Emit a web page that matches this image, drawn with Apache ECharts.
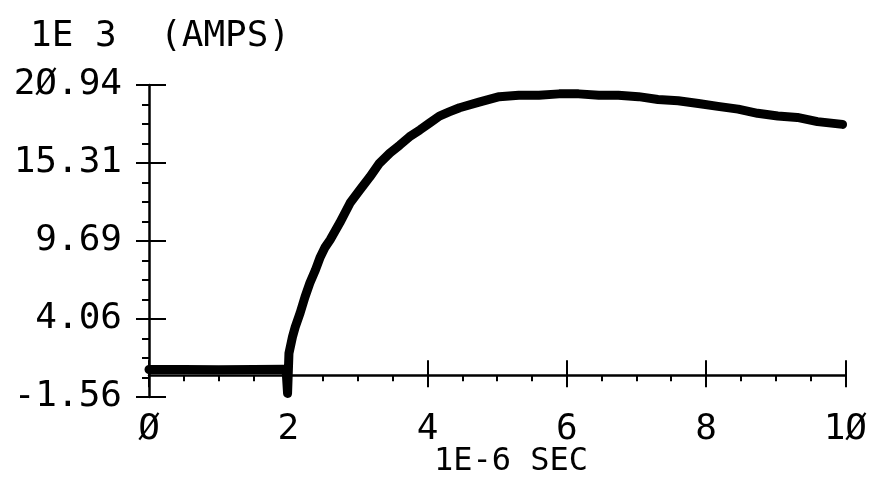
<!DOCTYPE html>
<html>
<head>
<meta charset="utf-8">
<script src="https://cdn.jsdelivr.net/npm/echarts@6/dist/echarts.min.js"></script>
<style>html,body{margin:0;padding:0;background:#fff;}#chart{width:870px;height:480px;}</style>
</head>
<body>
<div id="chart"></div>
<script>
// Data
const timeUs = [0, 0.5, 1.0, 1.5, 1.93, 1.97, 1.99, 2.01, 2.06, 2.10, 2.17, 2.24, 2.31, 2.39, 2.46, 2.53, 2.60, 2.74, 2.89, 3.03, 3.17, 3.31, 3.46, 3.60, 3.74, 3.89, 4.03, 4.17, 4.31, 4.46, 4.74, 5.03, 5.31, 5.60, 5.89, 6.17, 6.46, 6.74, 7.03, 7.31, 7.60, 7.89, 8.17, 8.46, 8.74, 9.03, 9.31, 9.60, 9.96];
const currentKA = [0.42, 0.42, 0.40, 0.42, 0.45, 0.30, -1.30, 1.60, 2.77, 3.49, 4.50, 5.65, 6.66, 7.60, 8.54, 9.25, 9.76, 11.0, 12.45, 13.39, 14.3, 15.3, 16.04, 16.6, 17.2, 17.7, 18.2, 18.7, 19.0, 19.3, 19.7, 20.1, 20.2, 20.2, 20.3, 20.3, 20.2, 20.2, 20.1, 19.9, 19.8, 19.6, 19.4, 19.2, 18.9, 18.7, 18.6, 18.3, 18.1];
const yTickLabels = ['-1.56', '4.06', '9.69', '15.31', '2Ø.94'];
const xTickLabels = ['Ø', '2', '4', '6', '8', '1Ø'];
const yTitle = '1E 3  (AMPS)';
const xTitle = '1E-6 SEC';

const FONT = 'DejaVu Sans Mono';
const chart = echarts.init(document.getElementById('chart'));
const yBase = {
  type: 'value', min: -1.56, max: 20.94, interval: 5.625,
  splitLine: {show: false}
};
const xBase = {
  type: 'value', min: 0, max: 10, interval: 2,
  splitLine: {show: false}
};
chart.setOption({
  animation: false,
  backgroundColor: '#fff',
  grid: {left: 149, right: 22, top: 85, bottom: 83},
  graphic: [
    {type: 'text', left: 30, top: 19, style: {text: yTitle, font: '36px "' + FONT + '"', fill: '#000'}},
    {type: 'text', left: 434, top: 446, style: {text: xTitle, font: '32px "' + FONT + '"', fill: '#000'}}
  ],
  xAxis: [
    Object.assign({}, xBase, {
      axisLine: {show: true, lineStyle: {color: '#000', width: 2.5}},
      axisTick: {show: true, inside: false, length: 12, lineStyle: {color: '#000', width: 2}},
      minorTick: {show: true, splitNumber: 4, length: 6, lineStyle: {color: '#000', width: 2}},
      axisLabel: {show: true, margin: 15, color: '#000', fontFamily: FONT, fontSize: 36,
        formatter: (v, i) => xTickLabels[Math.round(v / 2)]}
    }),
    Object.assign({}, xBase, {
      position: 'bottom',
      axisLine: {show: false},
      axisTick: {show: true, inside: true, length: 15, lineStyle: {color: '#000', width: 2}},
      axisLabel: {show: false}
    })
  ],
  yAxis: [
    Object.assign({}, yBase, {
      axisLine: {show: true, lineStyle: {color: '#000', width: 2.5}},
      axisTick: {show: true, inside: false, length: 13, lineStyle: {color: '#000', width: 2}},
      minorTick: {show: true, splitNumber: 4, length: 7, lineStyle: {color: '#000', width: 2}},
      axisLabel: {show: true, margin: 27, color: '#000', fontFamily: FONT, fontSize: 36,
        formatter: (v, i) => yTickLabels[Math.round((v + 1.56) / 5.625)]}
    }),
    Object.assign({}, yBase, {
      position: 'left',
      axisLine: {show: false},
      axisTick: {show: true, inside: true, length: 17, lineStyle: {color: '#000', width: 2}},
      axisLabel: {show: false}
    })
  ],
  series: [{
    type: 'line',
    xAxisIndex: 0, yAxisIndex: 0,
    data: timeUs.map((t, i) => [t, currentKA[i]]),
    showSymbol: false,
    lineStyle: {color: '#000', width: 9, join: 'round', cap: 'round'}
  }]
});
</script>
</body>
</html>
